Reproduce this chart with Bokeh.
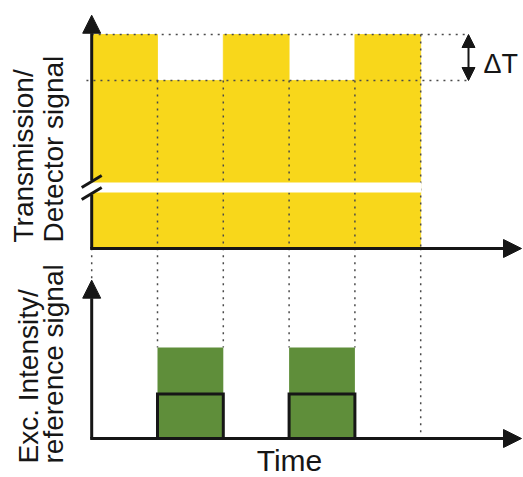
import math
from bokeh.plotting import figure
from bokeh.models import Range1d, Arrow, NormalHead, Label
from bokeh.embed import file_html
from bokeh.resources import INLINE

# ---------------- data (schematic, arbitrary units) ----------------
time_edges = [0, 1, 2, 3, 4, 5]                 # half-periods of the modulation
transmission = [1.0, 0.785, 1.0, 0.785, 1.0]    # detector signal (axis broken below)
excitation = [0, 1, 0, 1, 0]                    # excitation intensity
reference = [0, 0.49, 0, 0.49, 0]               # reference signal
axis_break = [0.262, 0.308]                     # hidden part of the transmission axis
top_label = ["Transmission/", "Detector signal"]
bottom_label = ["Exc. Intensity/", "reference signal"]
x_label = "Time"
delta_label = "\u0394T"

# ---------------- styles / layout ----------------
YELLOW = "#F8D71B"
GREEN = "#5F8E3A"
BLACK = "#161616"
DOT = "#4a4a4a"
DASH = "2 5"
FONT = "Liberation Sans"
W, H = 523, 477
PX_T = 65.8                                  # px per time unit
T0 = 91.2                                    # px of t=0 from left edge
t_axis_end = (521 - T0) / PX_T
trans_axis_top = 1.09
exc_axis_top = 1.74
exc_panel_top = 2.09
delta_x = (468 - T0) / PX_T

p = figure(width=W, height=H, output_backend="svg", toolbar_location=None,
           x_axis_location=None, y_axis_location=None, min_border=0,
           x_range=Range1d(-T0 / PX_T, (W - T0) / PX_T),
           y_range=Range1d(-229 / 214, (H - 229) / 214))
p.extra_y_ranges = {"exc": Range1d(-39 / 91, (H - 39) / 91)}
p.grid.visible = False
p.outline_line_color = None
p.background_fill_color = "white"
p.border_fill_color = "white"

# ---- top panel: transmission ----
p.quad(left=time_edges[:-1], right=time_edges[1:], bottom=0, top=transmission,
       fill_color=YELLOW, line_color=YELLOW, line_width=0.8)

hi, lo = max(transmission), min(transmission)
# dotted guide lines
vx, vtop = [], []
for k in range(1, len(time_edges)):
    if k < len(transmission):
        vtop.append(min(transmission[k - 1], transmission[k]))
    else:
        vtop.append(transmission[k - 1])
    vx.append(time_edges[k])
p.segment(x0=vx, y0=vtop, x1=vx, y1=[0] * len(vx), line_color=DOT,
          line_width=1.5, line_dash=DASH)
p.segment(x0=[0, -0.08], y0=[hi, lo], x1=[delta_x, delta_x], y1=[hi, lo],
          line_color=DOT, line_width=1.5, line_dash=DASH)

# axis break band
p.quad(left=[-0.03], right=[time_edges[-1] + 0.01], bottom=[axis_break[0]], top=[axis_break[1]],
       fill_color="white", line_color=None)

# top axes
p.segment(x0=[0], y0=[0], x1=[0], y1=[axis_break[0] - 0.01], line_color=BLACK, line_width=3)
p.add_layout(Arrow(x_start=0, y_start=axis_break[1] + 0.01, x_end=0, y_end=trans_axis_top,
                   line_color=BLACK, line_width=3,
                   end=NormalHead(size=18, fill_color=BLACK, line_color=BLACK, line_width=1)))
p.add_layout(Arrow(x_start=-0.023, y_start=0, x_end=t_axis_end, y_end=0,
                   line_color=BLACK, line_width=3,
                   end=NormalHead(size=18, fill_color=BLACK, line_color=BLACK, line_width=1)))
# break marks
p.segment(x0=[-0.152, -0.152], y0=[0.285, 0.229], x1=[0.152, 0.152], y1=[0.341, 0.285],
          line_color=BLACK, line_width=3)

# delta T arrow
p.add_layout(Arrow(x_start=delta_x, y_start=lo, x_end=delta_x, y_end=hi,
                   line_color=BLACK, line_width=2,
                   start=NormalHead(size=13, fill_color=BLACK, line_color=BLACK, line_width=1),
                   end=NormalHead(size=13, fill_color=BLACK, line_color=BLACK, line_width=1)))

# ---- bottom panel: excitation / reference ----
bx, bbot = [], []
for k in range(1, len(time_edges)):
    if k < len(excitation):
        bbot.append(max(excitation[k - 1], excitation[k]))
    else:
        bbot.append(excitation[k - 1])
    bx.append(time_edges[k])
p.segment(x0=bx, y0=[exc_panel_top] * len(bx), x1=bx, y1=bbot, line_color=DOT,
          line_width=1.5, line_dash=DASH, y_range_name="exc")
p.segment(x0=[0], y0=[exc_panel_top], x1=[0], y1=[exc_axis_top], line_color=DOT,
          line_width=1.5, line_dash=DASH, y_range_name="exc")

p.quad(left=time_edges[:-1], right=time_edges[1:], bottom=0, top=excitation,
       fill_color=GREEN, line_color=None, y_range_name="exc")

rx, ry = [], []
for i, v in enumerate(reference):
    rx += [time_edges[i], time_edges[i + 1]]
    ry += [v, v]
p.line(rx, ry, line_color=BLACK, line_width=3, line_join="miter", y_range_name="exc")

p.add_layout(Arrow(x_start=0, y_start=0, x_end=0, y_end=exc_axis_top, y_range_name="exc",
                   line_color=BLACK, line_width=3,
                   end=NormalHead(size=18, fill_color=BLACK, line_color=BLACK, line_width=1)))
p.add_layout(Arrow(x_start=-0.023, y_start=0, x_end=t_axis_end, y_end=0, y_range_name="exc",
                   line_color=BLACK, line_width=3,
                   end=NormalHead(size=18, fill_color=BLACK, line_color=BLACK, line_width=1)))

# ---- labels ----
def lab(text, x, y, size, angle=0.0, align="left"):
    p.add_layout(Label(text=text, x=x, y=y, x_units="screen", y_units="screen",
                       angle=angle, text_font=FONT, text_font_size=size,
                       text_color=BLACK, text_align=align, text_baseline="alphabetic"))

lab(top_label[0], 23, 235, "28px", math.pi / 2)
lab(top_label[1], 53, 235, "28px", math.pi / 2)
lab(bottom_label[0], 28, 14, "28px", math.pi / 2)
lab(bottom_label[1], 53, 14, "28px", math.pi / 2)
lab(x_label, 289, 17, "30px", 0, "center")
lab(delta_label, 483, 414, "27px")

open("out.html", "w").write(file_html(p, INLINE))
